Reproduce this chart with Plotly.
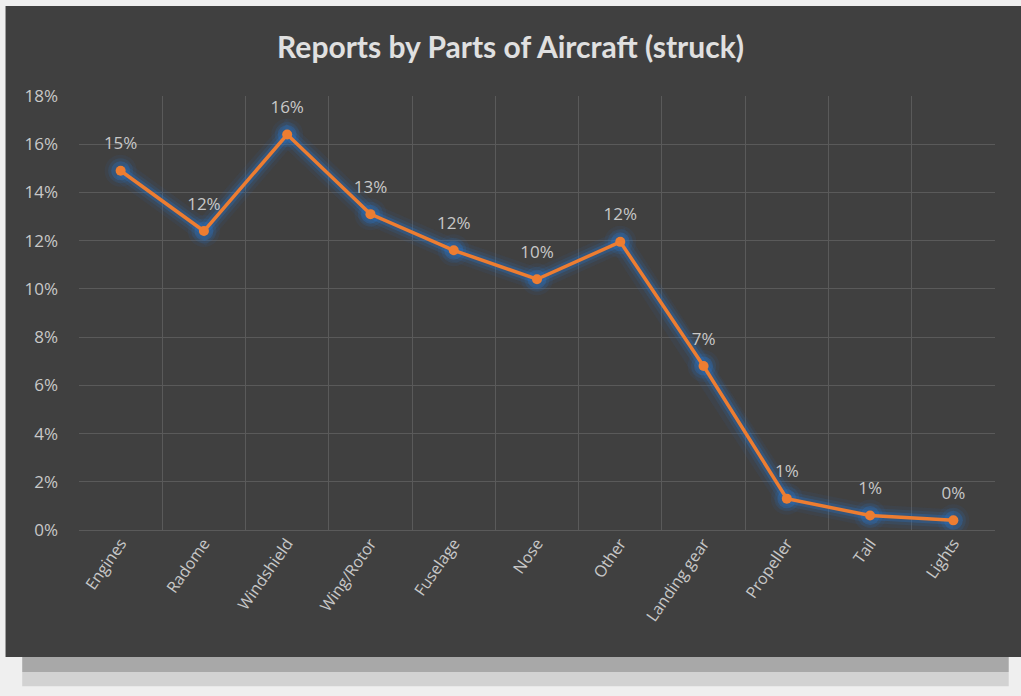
import plotly.graph_objects as go

categories = ["Engines", "Radome", "Windshield", "Wing/Rotor", "Fuselage", "Nose",
              "Other", "Landing gear", "Propeller", "Tail", "Lights"]
values = [0.149, 0.124, 0.164, 0.131, 0.116, 0.104, 0.1195, 0.068, 0.013, 0.006, 0.004]
title_text = "Reports by Parts of Aircraft (struck)"

ORANGE = "#ED7D31"
TXT = "#c8c8c8"
GRID = "#5a5a5a"

fig = go.Figure()

# glow layers
for w, a in [(22, 0.07), (15, 0.13), (9, 0.28)]:
    fig.add_trace(go.Scatter(x=categories, y=values, mode="lines+markers",
                             line=dict(color=f"rgba(40,120,210,{a})", width=w),
                             marker=dict(size=w + 10, color=f"rgba(40,120,210,{a})"),
                             hoverinfo="skip", showlegend=False))
# main line
fig.add_trace(go.Scatter(x=categories, y=values, mode="lines+markers",
                         line=dict(color=ORANGE, width=3.5),
                         marker=dict(size=10, color=ORANGE),
                         showlegend=False))
# labels
fig.add_trace(go.Scatter(x=categories, y=values, mode="markers+text",
                         marker=dict(size=26, opacity=0),
                         text=[f"{round(v*100):.0f}%" for v in values],
                         textposition="top center",
                         textfont=dict(family="Open Sans", size=17, color=TXT),
                         hoverinfo="skip", showlegend=False))

# dark panel and shadow
fig.add_shape(type="rect", xref="paper", yref="paper", x0=-0.0802, x1=1.03, y0=-0.2926, y1=1.2074,
              fillcolor="#404040", line_width=0, layer="below")
fig.add_shape(type="rect", xref="paper", yref="paper", x0=-0.062, x1=1.015, y0=-0.327, y1=-0.2926,
              fillcolor="#a8a8a8", line_width=0, layer="below")
fig.add_shape(type="rect", xref="paper", yref="paper", x0=-0.062, x1=1.015, y0=-0.36, y1=-0.327,
              fillcolor="#d2d2d2", line_width=0, layer="below")

fig.update_layout(
    width=1021, height=696,
    margin=dict(l=79, r=26, t=96, b=166),
    paper_bgcolor="#efefef", plot_bgcolor="#404040",
    title=dict(text=f"<b>{title_text}</b>", x=0.5, xanchor="center", y=0.932, yanchor="middle",
               font=dict(family="Lato", size=30, color="#e0e0e0")),
    font=dict(family="Open Sans", color=TXT),
)
fig.update_xaxes(type="category", tickson="boundaries", showgrid=True, gridcolor=GRID, gridwidth=1,
                 tickangle=-55, tickfont=dict(family="Open Sans", size=16, color=TXT),
                 ticks="", range=[-0.5, 10.5], showline=False, zeroline=False)
fig.update_yaxes(range=[0, 0.18], dtick=0.02, tickformat=".0%", showgrid=True, gridcolor=GRID,
                 gridwidth=1, zeroline=True, zerolinecolor=GRID, zerolinewidth=1,
                 tickfont=dict(family="Open Sans", size=17, color=TXT),
                 ticks="", ticklabelstandoff=20)

fig.write_html("out.html", config={"displayModeBar": False},
               post_script="document.body.style.margin='0';")
